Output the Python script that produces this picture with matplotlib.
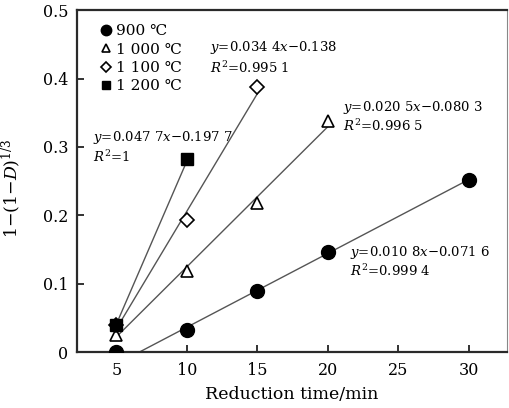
import matplotlib
matplotlib.use("Agg")
import matplotlib.pyplot as plt
import numpy as np

plt.rcParams['font.family'] = ['DejaVu Serif', 'DejaVu Sans', 'Noto Sans CJK SC']
plt.rcParams['mathtext.fontset'] = 'dejavuserif'

# Measured data: reduction time (min) vs 1-(1-D)^(1/3)
labels = ['900 ℃', '1 000 ℃', '1 100 ℃', '1 200 ℃']
t_900 = [5, 10, 15, 20, 30]
y_900 = [0.0, 0.032, 0.090, 0.147, 0.252]
t_1000 = [5, 10, 15, 20]
y_1000 = [0.025, 0.118, 0.218, 0.338]
t_1100 = [5, 10, 15]
y_1100 = [0.040, 0.193, 0.388]
t_1200 = [5, 10]
y_1200 = [0.040, 0.282]

# Linear fits: slope, intercept, fitted x-range
slopes = [0.0108, 0.0205, 0.0344, 0.0477]
intercepts = [-0.0716, -0.0803, -0.138, -0.1977]
fit_ranges = [(0.0716 / 0.0108, 30), (5, 20), (5, 15), (5, 10)]
eq_texts = ['$y$=0.010 8$x$\u22120.071 6', '$y$=0.020 5$x$\u22120.080 3',
            '$y$=0.034 4$x$\u22120.138', '$y$=0.047 7$x$\u22120.197 7']
r2_texts = ['$R^2$=0.999 4', '$R^2$=0.996 5', '$R^2$=0.995 1', '$R^2$=1']
x_ticks = [5, 10, 15, 20, 25, 30]
y_ticks = [0, 0.1, 0.2, 0.3, 0.4, 0.5]
y_tick_labels = ['0', '0.1', '0.2', '0.3', '0.4', '0.5']

fig = plt.figure(figsize=(5.09, 4.08), dpi=100)
ax = fig.add_axes([0.151, 0.137, 0.845, 0.838])

line_col = '#555555'
for (x0, x1), k, b in zip(fit_ranges, slopes, intercepts):
    xs = np.array([x0, x1])
    ax.plot(xs, k * xs + b, color=line_col, lw=1.0, zorder=2)

styles = [
    dict(marker='o', ms=10, mfc='black', mec='black'),
    dict(marker='^', ms=8, mfc='white', mec='black', mew=1.2),
    dict(marker='D', ms=7, mfc='white', mec='black', mew=1.2),
    dict(marker='s', ms=8.5, mfc='black', mec='black'),
]
series = [(t_900, y_900), (t_1000, y_1000), (t_1100, y_1100), (t_1200, y_1200)]
for (tx, ty), st, lab in zip(series, styles, labels):
    h, = ax.plot(tx, ty, ls='none', label=lab, zorder=3, **st)
    h.set_clip_path(ax.patch)

ax.set_xlim(2.2, 32.7)
ax.set_ylim(0, 0.5)
ax.set_xticks(x_ticks)
ax.set_yticks(y_ticks)
ax.set_yticklabels(y_tick_labels)
ax.tick_params(direction='in', length=5, width=1.3, labelsize=11.5, color='#222222')
ax.tick_params(axis='x', pad=7)
ax.tick_params(axis='y', pad=6)
ax.tick_params(top=False, right=False)

for side in ['left', 'bottom', 'top']:
    ax.spines[side].set_linewidth(1.6)
    ax.spines[side].set_color('#2a2a2a')
ax.spines['right'].set_linewidth(0.8)
ax.spines['right'].set_color('#888888')

ax.set_xlabel('Reduction time/min', fontsize=12.5, labelpad=5)
ax.set_ylabel('1\u2212(1\u2212$D$)$^{1/3}$', fontsize=12.5)
ax.yaxis.set_label_coords(-0.125, 0.48)

# Legend symbols (drawn smaller than in the plot)
leg_handles = []
for st, lab in zip(styles, labels):
    s = dict(st)
    s['ms'] = s['ms'] * 0.75
    h, = ax.plot([], [], ls='none', label=lab, **s)
    leg_handles.append(h)
ax.legend(handles=leg_handles, loc='upper left', bbox_to_anchor=(0.035, 0.985),
          frameon=False, fontsize=11, handlelength=0.6, handletextpad=0.35,
          labelspacing=0.28, borderaxespad=0.2)

# Fit equation annotations
eq_pos = [(21.6, 0.146, 0.118), (21.1, 0.357, 0.330),
          (11.65, 0.446, 0.415), (3.34, 0.314, 0.285)]
for (x, ye, yr), et, rt in zip(eq_pos, eq_texts, r2_texts):
    ax.text(x, ye, et, fontsize=9.5, ha='left', va='center')
    ax.text(x, yr, rt, fontsize=9.5, ha='left', va='center')

fig.savefig('out.png', dpi=100)
